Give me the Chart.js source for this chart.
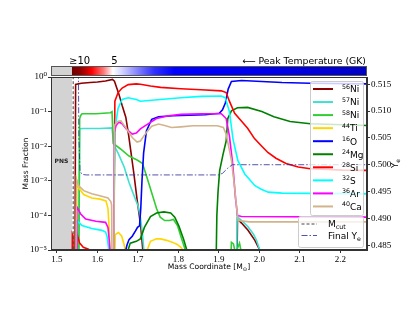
<!DOCTYPE html>
<html>
<head>
<meta charset="utf-8">
<script src="https://cdn.jsdelivr.net/npm/chart.js@4.4.1/dist/chart.umd.min.js"></script>
<style>
html, body { margin: 0; padding: 0; background: #fff; }
</style>
</head>
<body>
<canvas id="chart" width="407" height="315"></canvas>
<script>
// [mass coordinate (Msun), mass fraction]
const ni56 = [[1.544,1e-7],[1.546,0.61],[1.560,0.66],[1.582,0.69],[1.600,0.72],[1.620,0.77],[1.637,0.85],[1.642,0.76],[1.653,0.32],[1.661,0.15],[1.670,0.069],[1.677,0.021],[1.682,7.8e-3],[1.690,1.6e-3],[1.698,2.8e-4],[1.707,4.8e-5],[1.712,1e-5],[1.714,1e-7],[1.943,1e-7],[1.946,7.9e-5],[1.956,6.0e-5],[1.972,3.7e-5],[1.989,1.9e-5],[2.001,1e-5],[2.006,1e-7]];
const ni57 = [[1.553,1e-7],[1.556,0.032],[1.566,0.0324],[1.606,0.0324],[1.636,0.0339],[1.640,0.0112],[1.651,6.3e-3],[1.666,2.5e-3],[1.678,8.9e-4],[1.691,3.55e-4],[1.701,1.78e-4],[1.706,8.9e-5],[1.711,3.2e-5],[1.716,6.3e-6],[1.718,1e-7],[1.942,1e-7],[1.945,1.0e-4],[1.947,8.9e-5],[1.961,6.3e-5],[1.972,4.7e-5],[1.986,2.8e-5],[1.993,1.9e-5],[2.001,1e-5],[2.006,1e-7]];
const ni58 = [[1.553,1e-7],[1.556,0.063],[1.559,0.079],[1.562,0.087],[1.596,0.087],[1.632,0.093],[1.636,0.10],[1.639,0.012],[1.657,8.3e-3],[1.678,5.2e-3],[1.698,4.0e-3],[1.711,3.2e-3],[1.721,1.4e-3],[1.734,4.5e-4],[1.746,1.58e-4],[1.755,8.9e-5],[1.766,7.1e-5],[1.778,7.1e-5],[1.788,7.6e-5],[1.798,5.0e-5],[1.806,2.5e-5],[1.817,1e-5],[1.821,1e-7],[1.924,1e-7],[1.931,1.66e-5],[1.936,1.5e-5],[1.941,7.9e-6],[1.946,1.12e-5],[1.951,1.58e-5],[1.956,7.9e-6],[1.959,1e-7]];
const ti44 = [[1.547,1e-7],[1.549,1.0e-3],[1.553,6.3e-4],[1.566,4.0e-4],[1.586,3.2e-4],[1.606,2.95e-4],[1.621,2.63e-4],[1.626,1.58e-4],[1.629,4.0e-5],[1.631,6.3e-6],[1.634,1e-7],[1.640,1e-7],[1.644,2.8e-5],[1.652,3.2e-5],[1.660,2.5e-5],[1.666,1.4e-5],[1.671,6.3e-6],[1.674,1e-7],[1.718,1e-7],[1.723,1e-5],[1.731,1.78e-5],[1.746,2.1e-5],[1.756,2.1e-5],[1.771,1.9e-5],[1.786,1.66e-5],[1.797,1.45e-5],[1.806,1.2e-5],[1.814,8.9e-6],[1.818,1e-7]];
const o16 = [[1.664,1e-7],[1.668,7.9e-6],[1.673,1.4e-5],[1.678,2.0e-5],[1.686,2.5e-5],[1.694,3.55e-5],[1.699,4.5e-5],[1.704,5.0e-5],[1.707,1.58e-4],[1.710,1.0e-3],[1.714,6.3e-3],[1.721,0.0275],[1.734,0.060],[1.751,0.071],[1.786,0.076],[1.866,0.081],[1.901,0.089],[1.909,0.112],[1.916,0.178],[1.923,0.447],[1.931,0.741],[1.956,0.794],[2.006,0.741],[2.056,0.692],[2.126,0.661],[2.266,0.631]];
const mg24 = [[1.669,1e-7],[1.673,7.9e-6],[1.681,1.58e-5],[1.696,1.78e-5],[1.706,2.1e-5],[1.716,4.5e-5],[1.731,9.3e-5],[1.746,1.17e-4],[1.764,1.26e-4],[1.781,1.17e-4],[1.791,8.9e-5],[1.801,5.0e-5],[1.813,2.0e-5],[1.822,8.9e-6],[1.826,1e-7],[1.891,1e-7],[1.895,1e-4],[1.898,5.0e-4],[1.902,2.0e-3],[1.910,5.6e-3],[1.918,0.0141],[1.922,0.063],[1.931,0.105],[1.946,0.129],[1.971,0.132],[2.006,0.100],[2.036,0.071],[2.076,0.052],[2.126,0.0447],[2.266,0.0398]];
const si28 = [[1.537,1e-7],[1.538,2.8e-5],[1.5395,2.5e-5],[1.541,1e-7],[1.548,1e-7],[1.550,2.8e-5],[1.556,1.58e-5],[1.565,1.2e-5],[1.578,1.05e-5],[1.592,7.9e-6],[1.597,1e-7],[1.639,1e-7],[1.643,0.20],[1.651,0.355],[1.661,0.479],[1.676,0.603],[1.696,0.631],[1.706,0.617],[1.731,0.55],[1.756,0.501],[1.806,0.457],[1.856,0.427],[1.906,0.398],[1.918,0.355],[1.926,0.200],[1.939,0.089],[1.954,0.056],[1.971,0.0331],[1.988,0.0166],[2.006,0.0100],[2.021,6.6e-3],[2.041,4.5e-3],[2.066,3.16e-3],[2.096,2.5e-3],[2.126,2.24e-3],[2.206,2.04e-3],[2.266,2.0e-3]];
const s32 = [[1.547,1e-7],[1.549,7.2e-5],[1.562,5.1e-5],[1.586,4.2e-5],[1.611,3.7e-5],[1.620,3.3e-5],[1.624,2.4e-5],[1.628,1e-5],[1.631,1e-7],[1.639,1e-7],[1.643,0.0316],[1.651,0.126],[1.661,0.224],[1.676,0.251],[1.696,0.224],[1.706,0.200],[1.756,0.224],[1.806,0.251],[1.856,0.275],[1.906,0.282],[1.916,0.251],[1.926,0.100],[1.935,0.0158],[1.947,3.8e-3],[1.964,1.58e-3],[1.989,7.2e-4],[2.006,5.6e-4],[2.022,4.7e-4],[2.056,4.4e-4],[2.266,4.2e-4]];
const ar36 = [[1.547,1e-7],[1.549,1.78e-4],[1.558,1.12e-4],[1.571,7.9e-5],[1.596,6.8e-5],[1.620,6.3e-5],[1.626,4.5e-5],[1.629,2.0e-5],[1.632,6.3e-6],[1.634,1e-7],[1.639,1e-7],[1.642,0.025],[1.646,0.040],[1.653,0.050],[1.661,0.0447],[1.671,0.0316],[1.686,0.0224],[1.696,0.024],[1.706,0.0316],[1.726,0.0447],[1.746,0.063],[1.776,0.076],[1.806,0.083],[1.856,0.087],[1.906,0.087],[1.918,0.063],[1.926,0.020],[1.934,3.2e-3],[1.941,3.2e-4],[1.946,1.0e-4],[1.956,9.3e-5],[2.266,8.9e-5]];
const ca40 = [[1.546,1e-7],[1.548,1.12e-3],[1.554,7.1e-4],[1.566,5.2e-4],[1.586,4.2e-4],[1.606,3.7e-4],[1.626,3.2e-4],[1.633,2.5e-4],[1.635,2.0e-4],[1.637,1e-7],[1.640,1e-7],[1.642,0.040],[1.651,0.0525],[1.658,0.054],[1.669,0.0355],[1.686,0.0178],[1.698,0.0132],[1.706,0.0141],[1.721,0.0251],[1.734,0.038],[1.751,0.0437],[1.766,0.0398],[1.783,0.0347],[1.806,0.0363],[1.836,0.0389],[1.896,0.0389],[1.911,0.0347],[1.918,0.0224],[1.931,3.98e-3],[1.939,6.3e-4],[1.944,1.58e-4],[1.948,7.1e-5],[1.976,6.5e-5],[2.266,6.5e-5]];
// [mass coordinate, final Ye]
const yeFinal = [[1.552,0.53],[1.554,0.505],[1.557,0.4988],[1.562,0.4982],[1.572,0.4981],[1.899,0.4981],[1.909,0.4984],[1.921,0.4993],[1.933,0.5000],[2.266,0.5000]];

const isoNames = ['56Ni','57Ni','58Ni','44Ti','16O','24Mg','28Si','32S','36Ar','40Ca'];
const isoData = [ni56, ni57, ni58, ti44, o16, mg24, si28, s32, ar36, ca40];
const isoColors = ['#8b0000','#40e0d0','#32cd32','#ffd700','#0000ff','#008000','#ff0000','#00ffff','#ff00ff','#d2b48c'];

const mCut = 1.540;
const pnsEdge = 1.537;
const coordTicks = [1.5, 1.6, 1.7, 1.8, 1.9, 2.0, 2.1, 2.2];
const massTicks = [1e-5, 1e-4, 1e-3, 1e-2, 1e-1, 1];
const massTickLabels = ['10\u207b\u2075','10\u207b\u2074','10\u207b\u00b3','10\u207b\u00b2','10\u207b\u00b9','10\u2070'];
const yeTicks = [0.485, 0.490, 0.495, 0.500, 0.505, 0.510, 0.515];
const tempTickMass = [1.556, 1.642];
const tempTickLabels = ['\u226510', '5'];

const SANS = '"DejaVu Sans", sans-serif';
const SERIF = '"Liberation Serif", "DejaVu Serif", serif';

function drawRich(ctx, x, y, parts, size, measureOnly) {
	ctx.textAlign = 'left';
	ctx.textBaseline = 'alphabetic';
	parts.forEach(p => {
		const fs = p.k === 'n' ? size : size * 0.7;
		ctx.font = fs + 'px ' + SANS;
		const dy = p.k === 'sup' ? -size * 0.38 : p.k === 'sub' ? size * 0.22 : 0;
		if (!measureOnly) ctx.fillText(p.t, x, y + dy);
		x += ctx.measureText(p.t).width;
	});
	return x;
}

function legendBox(ctx, x, y, w, h) {
	ctx.save();
	ctx.fillStyle = 'rgba(255,255,255,0.8)';
	ctx.strokeStyle = '#cccccc';
	ctx.lineWidth = 1;
	ctx.beginPath();
	ctx.roundRect(x + 0.5, y + 0.5, w, h, 2);
	ctx.fill();
	ctx.stroke();
	ctx.restore();
}

const decor = {
	id: 'decor',
	beforeDatasetsDraw(chart) {
		const {ctx, chartArea: a, scales} = chart;
		const xe = scales.x.getPixelForValue(pnsEdge);
		ctx.save();
		ctx.fillStyle = '#d3d3d3';
		ctx.fillRect(a.left, a.top, xe - a.left, a.bottom - a.top);
		ctx.fillStyle = '#222';
		ctx.font = 'bold 6px ' + SANS;
		ctx.textAlign = 'center';
		ctx.textBaseline = 'middle';
		ctx.fillText('PNS', (a.left + xe) / 2, scales.y.getPixelForValue(3.7e-3));
		ctx.restore();
	},
	afterDatasetsDraw(chart) {
		const {ctx, chartArea: a} = chart;
		const sets = chart.data.datasets;
		// isotope legend
		legendBox(ctx, 310, 81, 53, 134);
		ctx.save();
		sets.filter(d => d.group === 1).forEach((d, i) => {
			const yc = 89 + i * 13.05;
			ctx.strokeStyle = d.borderColor;
			ctx.lineWidth = 2;
			ctx.beginPath();
			ctx.moveTo(313, yc);
			ctx.lineTo(333, yc);
			ctx.stroke();
			ctx.fillStyle = '#000';
			const m = d.label.match(/^(\d+)(\D+)$/);
			drawRich(ctx, 342, yc + 3.3, [{t: m[1], k: 'sup'}, {t: m[2], k: 'n'}], 9);
		});
		ctx.restore();
		// Mcut / Ye legend
		legendBox(ctx, 298, 216, 65, 31);
		ctx.save();
		sets.filter(d => d.group === 2).forEach((d, i) => {
			const yc = 224 + i * 11.5;
			ctx.strokeStyle = d.borderColor;
			ctx.lineWidth = 1;
			ctx.setLineDash(d.borderDash);
			ctx.beginPath();
			ctx.moveTo(301.5, yc);
			ctx.lineTo(317, yc);
			ctx.stroke();
			ctx.setLineDash([]);
			ctx.fillStyle = '#000';
			drawRich(ctx, 328, yc + 3.3, d.richLabel, 9);
		});
		ctx.restore();
		// frame
		ctx.save();
		ctx.strokeStyle = '#333';
		ctx.lineWidth = 1;
		ctx.strokeRect(a.left + 0.5, a.top + 0.5, a.right - a.left - 1, a.bottom - a.top - 1);
		ctx.restore();
	},
	afterDraw(chart) {
		const {ctx, chartArea: a, scales} = chart;
		const x = scales.x;
		// peak temperature colour bar
		const top = 66, h = 9;
		const xe = x.getPixelForValue(pnsEdge);
		ctx.save();
		ctx.fillStyle = '#d3d3d3';
		ctx.fillRect(a.left, top, xe - a.left, h);
		const stops = [[1.537,'#700000'],[1.556,'#8b0000'],[1.572,'#c00000'],[1.586,'#ff0000'],[1.615,'#ff7878'],[1.638,'#ffffff'],[1.662,'#d0d0ff'],[1.70,'#8080ff'],[1.74,'#3030ff'],[1.79,'#0000ff'],[2.05,'#0000e6'],[2.266,'#0000c4']];
		const g = ctx.createLinearGradient(xe, 0, a.right, 0);
		stops.forEach(s => g.addColorStop(Math.min(1, Math.max(0, (x.getPixelForValue(s[0]) - xe) / (a.right - xe))), s[1]));
		ctx.fillStyle = g;
		ctx.fillRect(xe, top, a.right - xe, h);
		ctx.strokeStyle = '#555';
		ctx.lineWidth = 1;
		ctx.strokeRect(a.left + 0.5, top + 0.5, a.right - a.left - 1, h);
		ctx.fillStyle = '#000';
		ctx.font = '10px ' + SANS;
		ctx.textAlign = 'center';
		ctx.textBaseline = 'alphabetic';
		tempTickMass.forEach((m, i) => ctx.fillText(tempTickLabels[i], x.getPixelForValue(m), 63.5));
		ctx.font = '9.3px ' + SANS;
		ctx.textAlign = 'right';
		ctx.fillText('\u27f5 Peak Temperature (GK)', a.right - 1, 63.5);
		// axis titles
		ctx.save();
		ctx.translate(25, (a.top + a.bottom) / 2);
		ctx.rotate(-Math.PI / 2);
		ctx.font = '7.6px ' + SANS;
		ctx.textAlign = 'center';
		ctx.fillText('Mass Fraction', 0, 2.7);
		ctx.restore();
		ctx.save();
		ctx.translate(398, (a.top + a.bottom) / 2);
		ctx.rotate(-Math.PI / 2);
		const ye = [{t: 'Y', k: 'n'}, {t: 'e', k: 'sub'}];
		const wy = drawRich(ctx, 0, 0, ye, 8.5, true);
		drawRich(ctx, -wy / 2, 0, ye, 8.5);
		ctx.restore();
		const xt = [{t: 'Mass Coordinate [M', k: 'n'}, {t: '\u2299', k: 'sub'}, {t: ']', k: 'n'}];
		const wx = drawRich(ctx, 0, 0, xt, 7.6, true);
		drawRich(ctx, (a.left + a.right) / 2 - wx / 2, 269, xt, 7.6);
		ctx.restore();
	}
};

const datasets = isoNames.map((name, i) => ({
	label: name,
	group: 1,
	data: isoData[i].map(p => ({x: p[0], y: p[1]})),
	borderColor: isoColors[i],
	borderWidth: 1.6,
	pointRadius: 0,
	tension: 0,
	fill: false,
	yAxisID: 'y',
	order: isoNames.length - i
}));
datasets.push({
	label: 'Mcut',
	group: 2,
	richLabel: [{t: 'M', k: 'n'}, {t: 'cut', k: 'sub'}],
	data: [{x: mCut, y: 1e-7}, {x: mCut, y: 10}],
	borderColor: '#444',
	borderWidth: 1,
	borderDash: [3, 2],
	pointRadius: 0,
	yAxisID: 'y',
	order: 0
});
datasets.push({
	label: 'Final Ye',
	group: 2,
	richLabel: [{t: 'Final Y', k: 'n'}, {t: 'e', k: 'sub'}],
	data: yeFinal.map(p => ({x: p[0], y: p[1]})),
	borderColor: 'rgba(40,40,150,0.8)',
	borderWidth: 1,
	borderDash: [6, 2, 1.5, 2],
	pointRadius: 0,
	tension: 0,
	yAxisID: 'y1',
	order: 0
});

const tickFont = {family: SERIF, size: 9};
new Chart(document.getElementById('chart'), {
	type: 'line',
	data: {datasets: datasets},
	plugins: [decor],
	options: {
		responsive: false,
		animation: false,
		events: [],
		layout: {padding: {top: 77, left: 0, right: 0, bottom: 0}},
		plugins: {legend: {display: false}, tooltip: {enabled: false}},
		scales: {
			x: {
				type: 'linear',
				min: 1.4852,
				max: 2.266,
				afterBuildTicks: s => { s.ticks = coordTicks.map(v => ({value: v})); },
				afterFit: s => { s.height = 65; },
				ticks: {font: tickFont, color: '#000', padding: 1, maxRotation: 0, autoSkip: false, callback: v => v.toFixed(1)},
				grid: {drawOnChartArea: false, drawTicks: true, tickLength: 3, color: '#333'},
				border: {display: true, color: '#333'}
			},
			y: {
				type: 'logarithmic',
				position: 'left',
				min: 1e-5,
				max: 1,
				afterBuildTicks: s => { s.ticks = massTicks.map(v => ({value: v, major: true})); },
				afterFit: s => { s.width = 51; },
				ticks: {font: tickFont, color: '#000', padding: 1, autoSkip: false, callback: (v, i) => massTickLabels[i]},
				grid: {drawOnChartArea: false, drawTicks: true, tickLength: 3, color: '#333'},
				border: {display: true, color: '#333'}
			},
			y1: {
				type: 'linear',
				position: 'right',
				min: 0.48411,
				max: 0.51635,
				afterBuildTicks: s => { s.ticks = yeTicks.map(v => ({value: v})); },
				afterFit: s => { s.width = 40; },
				ticks: {font: tickFont, color: '#000', padding: 1, autoSkip: false, callback: v => v.toFixed(3)},
				grid: {drawOnChartArea: false, drawTicks: true, tickLength: 3, color: '#333'},
				border: {display: true, color: '#333'}
			}
		}
	}
});
</script>
</body>
</html>
